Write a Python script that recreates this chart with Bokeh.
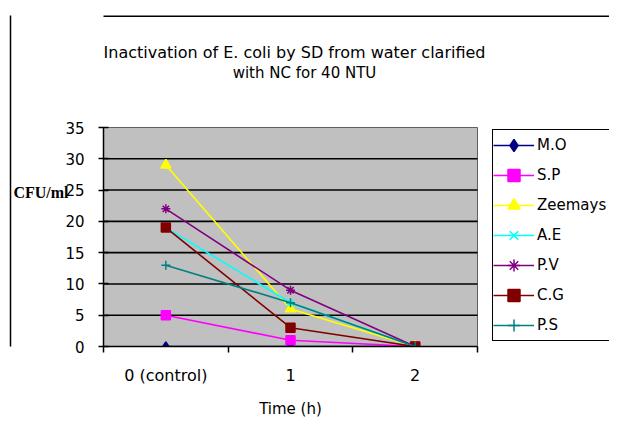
from bokeh.plotting import figure
from bokeh.models import Range1d, FixedTicker, Label, Legend, LinearAxis
from bokeh.embed import file_html
from bokeh.resources import INLINE

# ---- data ----
times = ["0 (control)", "1", "2"]
series_names = ["M.O", "S.P", "Zeemays", "A.E", "P.V", "C.G", "P.S"]
mo = [0, 0, 0]
sp = [5, 1, 0]
zeemays = [29, 6, 0]
ae = [19, 7, 0]
pv = [22, 9, 0]
cg = [19, 3, 0]
ps = [13, 7, 0]
y_ticks = [0, 5, 10, 15, 20, 25, 30, 35]
title_line1 = "Inactivation of E. coli by SD from water clarified"
title_line2 = "with NC for 40 NTU"
x_title = "Time (h)"
y_title = "CFU/ml"

series_values = [mo, sp, zeemays, ae, pv, cg, ps]
colors = ["#000080", "#FF00FF", "#FFFF00", "#00FFFF", "#800080", "#800000", "#008080"]
markers = ["diamond", "square", "triangle", "x", "asterisk", "square", "cross"]
msizes = [9, 9, 10, 9, 9, 9, 9]

# ---- layout (pixels) ----
W, H = 609, 430
FL, FR, FT, FB = 103, 609, 15, 346      # frame edges on the canvas
PLOT_R, PLOT_T = 477, 127               # right / top edge of the grey plot area
n = len(times)
ymax = y_ticks[-1]
px_x = (PLOT_R - FL) / n
px_y = (FB - PLOT_T) / ymax
x_end = (FR - FL) / px_x
y_end = (FB - FT) / px_y

xpos = [i + 0.5 for i in range(n)]

p = figure(width=W, height=H, output_backend="svg", toolbar_location=None,
           title=None,
           x_range=Range1d(0, x_end), y_range=Range1d(0, y_end),
           min_border_left=FL, min_border_right=W - FR, min_border_top=FT,
           min_border_bottom=H - FB)

p.background_fill_color = "white"
p.border_fill_color = "white"
p.outline_line_color = None
p.xgrid.grid_line_color = None
p.ygrid.grid_line_color = None

# grey plot area and its gridlines
p.quad(left=0, right=n, bottom=0, top=ymax, fill_color="#C0C0C0",
       line_color="#606060", line_width=1)
gy = y_ticks[1:-1]
p.segment(x0=[0] * len(gy), x1=[n] * len(gy), y0=gy, y1=gy,
          line_color="black", line_width=1.6)

# outer chart border (top edge)
p.segment(x0=[-1], x1=[x_end + 1], y0=[y_end], y1=[y_end],
          line_color="black", line_width=3)

items = []
for name, vals, c, m, s in zip(series_names, series_values, colors, markers, msizes):
    r1 = p.line(xpos, vals, line_color=c, line_width=1.6)
    r2 = p.scatter(xpos, vals, marker=m, size=s, fill_color=c, line_color=c,
                   line_width=1.5)
    items.append((name, [r1, r2]))

# x axis
xa = p.xaxis[0]
xa.bounds = (0, n)
xa.ticker = FixedTicker(ticks=xpos, minor_ticks=list(range(n + 1)))
xa.major_label_overrides = {x: t for x, t in zip(xpos, times)}
xa.major_tick_out = 0
xa.major_tick_in = 0
xa.minor_tick_out = 6
xa.minor_tick_in = 0
xa.minor_tick_line_color = "black"
xa.minor_tick_line_width = 1.5
xa.axis_line_color = "black"
xa.axis_line_width = 1.5
xa.major_label_standoff = 13
xa.major_label_text_font = "DejaVu Sans"
xa.major_label_text_font_size = "16px"
xa.major_label_text_color = "black"

# x-title, centred under the plot area, on an extra (line-less) axis
xlab_pos = n / 2
xa2 = LinearAxis(ticker=FixedTicker(ticks=[xlab_pos]),
                 major_label_overrides={xlab_pos: x_title},
                 axis_line_color=None, major_tick_line_color=None,
                 minor_tick_line_color=None, major_tick_out=0, major_tick_in=0,
                 major_label_standoff=12,
                 major_label_text_font="DejaVu Sans",
                 major_label_text_font_size="15px",
                 major_label_text_color="black")
p.add_layout(xa2, "below")

# y axis
ya = p.yaxis[0]
ya.bounds = (0, ymax)
ya.ticker = FixedTicker(ticks=y_ticks)
ya.major_tick_out = 5
ya.major_tick_in = 5
ya.minor_tick_out = 0
ya.minor_tick_in = 0
ya.major_tick_line_color = "black"
ya.major_tick_line_width = 1.5
ya.axis_line_color = "black"
ya.axis_line_width = 1.5
ya.major_label_standoff = 14
ya.major_label_text_font = "DejaVu Sans"
ya.major_label_text_font_size = "15px"
ya.major_label_text_color = "black"

# y-title as a horizontal label on an extra (line-less) left axis
ylab_pos = 24.6
ya2 = LinearAxis(ticker=FixedTicker(ticks=[ylab_pos]),
                 major_label_overrides={ylab_pos: y_title},
                 axis_line_color=None, major_tick_line_color=None,
                 minor_tick_line_color=None, major_tick_out=0, major_tick_in=0,
                 major_label_standoff=-6,
                 major_label_text_font="Liberation Serif",
                 major_label_text_font_style="bold",
                 major_label_text_font_size="16px",
                 major_label_text_color="black")
p.add_layout(ya2, "left")

# outer chart border (left edge) as a bare axis line
ya3 = LinearAxis(ticker=FixedTicker(ticks=[]), axis_line_color="black",
                 axis_line_width=1.5, major_tick_line_color=None,
                 minor_tick_line_color=None, major_tick_out=0, major_tick_in=0,
                 major_label_text_font_size="0px")
p.add_layout(ya3, "left")

# titles
p.add_layout(Label(x=191, y=294, x_units="screen", y_units="screen",
                   text=title_line1, text_align="center", text_baseline="middle",
                   text_font="DejaVu Sans", text_font_size="16px",
                   text_color="black"))
p.add_layout(Label(x=201, y=274, x_units="screen", y_units="screen",
                   text=title_line2, text_align="center", text_baseline="middle",
                   text_font="DejaVu Sans", text_font_size="15px",
                   text_color="black"))

# legend
lg = Legend(items=items, location=(389, 5))
lg.border_line_color = "black"
lg.border_line_width = 1.5
lg.border_line_alpha = 1
lg.background_fill_color = "white"
lg.background_fill_alpha = 1
lg.padding = 0
lg.margin = 0
lg.spacing = 0
lg.label_height = 30
lg.glyph_height = 30
lg.glyph_width = 41
lg.label_standoff = 3
lg.label_width = 100
lg.label_text_font = "DejaVu Sans"
lg.label_text_font_size = "15px"
lg.label_text_color = "black"
p.add_layout(lg, "center")

open("out.html", "w").write(file_html(p, INLINE))
